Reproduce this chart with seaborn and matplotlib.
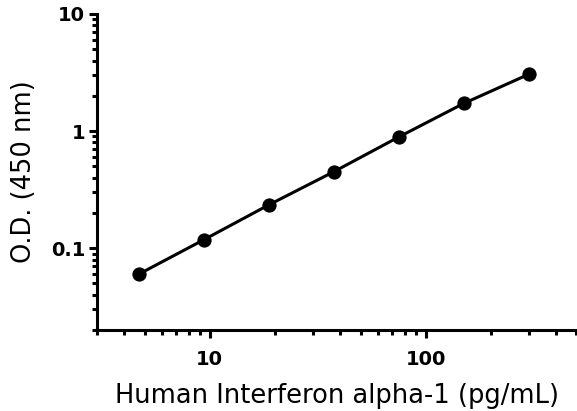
import matplotlib
matplotlib.use('Agg')
import matplotlib.pyplot as plt
import matplotlib.ticker as mticker
import seaborn as sns
import pandas as pd

# standard curve readings
concentration = [4.69, 9.38, 18.75, 37.5, 75, 150, 300]
od_450 = [0.060, 0.118, 0.234, 0.449, 0.889, 1.72, 3.05]

x_ticks = [10, 100]
x_tick_labels = ['10', '100']
y_ticks = [0.1, 1, 10]
y_tick_labels = ['0.1', '1', '10']

df = pd.DataFrame({'conc': concentration, 'od': od_450})

sns.set_style('ticks')
plt.rcParams['font.family'] = ['DejaVu Sans']
plt.rcParams['text.color'] = 'black'
plt.rcParams['axes.labelcolor'] = 'black'
plt.rcParams['xtick.color'] = 'black'
plt.rcParams['ytick.color'] = 'black'

fig = plt.figure(figsize=(5.77, 4.11), dpi=100)
ax = fig.add_axes([0.168, 0.197, 0.831, 0.769])

sns.lineplot(data=df, x='conc', y='od', ax=ax, color='black', linewidth=2.2,
             marker='o', markersize=9.5, markeredgecolor='black', markerfacecolor='black')

ax.set_xscale('log')
ax.set_yscale('log')
ax.set_xlim(3, 500)
ax.set_ylim(0.02, 10)

ax.xaxis.set_major_locator(mticker.FixedLocator(x_ticks))
ax.xaxis.set_major_formatter(mticker.FixedFormatter(x_tick_labels))
ax.xaxis.set_minor_locator(mticker.LogLocator(base=10, subs=range(2, 10)))
ax.xaxis.set_minor_formatter(mticker.NullFormatter())
ax.yaxis.set_major_locator(mticker.FixedLocator(y_ticks))
ax.yaxis.set_major_formatter(mticker.FixedFormatter(y_tick_labels))
ax.yaxis.set_minor_locator(mticker.LogLocator(base=10, subs=range(2, 10)))
ax.yaxis.set_minor_formatter(mticker.NullFormatter())

for side in ['top', 'right']:
    ax.spines[side].set_visible(False)
for side in ['left', 'bottom']:
    ax.spines[side].set_linewidth(2.2)
    ax.spines[side].set_color('black')

ax.tick_params(which='major', length=5.5, width=2.2, colors='black', direction='out')
ax.tick_params(which='minor', length=3.5, width=2.2, colors='black', direction='out')
ax.tick_params(axis='x', which='major', pad=9)
ax.tick_params(axis='y', which='major', pad=3)
for lbl in ax.get_xticklabels() + ax.get_yticklabels():
    lbl.set_fontweight('bold')
    lbl.set_fontsize(14)

ax.set_xlabel('Human Interferon alpha-1 (pg/mL)', fontsize=18.5, labelpad=10)
ax.set_ylabel('O.D. (450 nm)', fontsize=18.5, labelpad=10)

fig.savefig('out.png', dpi=100)
